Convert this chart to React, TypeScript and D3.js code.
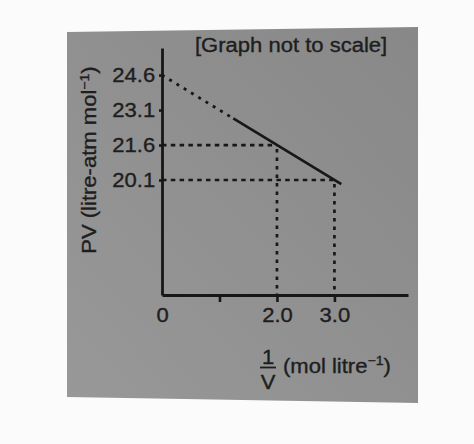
import { useEffect, useRef } from "react";
import * as d3 from "d3";

// Values. x = 1/V (mol litre^-1), y = PV (litre-atm mol^-1).
const X_TICKS = [0, 1, 2, 3];
const X_TICK_LABELS = ["0", "", "2.0", "3.0"];
const Y_TICKS = [24.6, 23.1, 21.6, 20.1];
const Y_TICK_LABELS = ["24.6", "23.1", "21.6", "20.1"];
// extrapolated part of the line (dotted) and the measured part (solid)
const DOTTED_X = [0, 1.24];
const DOTTED_Y = [24.6, 22.74];
const SOLID_X = [1.24, 3.12];
const SOLID_Y = [22.74, 19.92];
// guide lines dropped from the line to both axes
const GUIDE_X = [2.0, 3.0];
const GUIDE_Y = [21.6, 20.1];

const INK = "#171717";
const TEXT = "#1e1e1e";
const FONT = "'Liberation Sans', Arial, Helvetica, sans-serif";
const STRETCH = "scale(1.13,1)"; // the printed face is wider than Arial

export default function App() {
  const svgRef = useRef<SVGSVGElement | null>(null);

  useEffect(() => {
    const svg = d3.select(svgRef.current);
    svg.selectAll("*").remove();

    // paper + grey printed card
    svg.append("rect").attr("width", 474).attr("height", 444).attr("fill", "#fbfbfb");
    const grad = svg
      .append("defs")
      .append("linearGradient")
      .attr("id", "card")
      .attr("x1", "1")
      .attr("y1", "0")
      .attr("x2", "0")
      .attr("y2", "1");
    grad.append("stop").attr("offset", "0").attr("stop-color", "#888888");
    grad.append("stop").attr("offset", "1").attr("stop-color", "#989898");
    svg
      .append("polygon")
      .attr("points", "67,32 418,27 418,403 67,397")
      .attr("fill", "url(#card)");

    const x = d3.scaleLinear().domain([0, 4.28]).range([162, 408]);
    const y = d3.scaleLinear().domain([15.17, 25.76]).range([295, 48]);

    const pts = (xs: number[], ys: number[]) => xs.map((v, i) => [v, ys[i]] as [number, number]);
    const line = d3
      .line<[number, number]>()
      .x((d) => x(d[0]))
      .y((d) => y(d[1]));

    // dashed guides
    const guides = svg.append("g").attr("stroke", INK).attr("stroke-width", 2.7).attr("fill", "none");
    GUIDE_X.forEach((gx, i) => {
      guides
        .append("line")
        .attr("x1", x(0))
        .attr("x2", x(gx))
        .attr("y1", y(GUIDE_Y[i]))
        .attr("y2", y(GUIDE_Y[i]))
        .attr("stroke-dasharray", "4.5,4.3");
      guides
        .append("line")
        .attr("x1", x(gx))
        .attr("x2", x(gx))
        .attr("y1", y(GUIDE_Y[i]) + 4)
        .attr("y2", y.range()[0])
        .attr("stroke-dasharray", "3.5,5");
    });

    // the PV vs 1/V line
    svg
      .append("path")
      .datum(pts(DOTTED_X, DOTTED_Y))
      .attr("fill", "none")
      .attr("stroke", INK)
      .attr("stroke-width", 2.8)
      .attr("stroke-dasharray", "3,5.5")
      .attr("d", line);
    svg
      .append("path")
      .datum(pts(SOLID_X, SOLID_Y))
      .attr("fill", "none")
      .attr("stroke", INK)
      .attr("stroke-width", 2.6)
      .attr("d", line);

    // axes
    const xAxis = svg
      .append("g")
      .attr("transform", `translate(0,${y.range()[0]})`)
      .call(
        d3
          .axisBottom(x)
          .tickValues(X_TICKS)
          .tickSize(7)
          .tickSizeOuter(0)
          .tickPadding(6)
          .tickFormat((_, i) => X_TICK_LABELS[i]),
      );
    xAxis.selectAll(".tick").filter((d) => d === 0).select("line").remove();

    const yAxis = svg
      .append("g")
      .attr("transform", `translate(${x.range()[0]},0)`)
      .call(
        d3
          .axisLeft(y)
          .tickValues(Y_TICKS)
          .tickSize(3)
          .tickSizeOuter(0)
          .tickPadding(3)
          .tickFormat((_, i) => Y_TICK_LABELS[i]),
      );

    for (const ax of [xAxis, yAxis]) {
      ax.select(".domain").attr("stroke", INK).attr("stroke-width", 2.8);
      ax.selectAll(".tick line").attr("stroke", INK).attr("stroke-width", 2.6);
      ax.selectAll(".tick text")
        .attr("fill", TEXT)
        .attr("stroke", TEXT)
        .attr("stroke-width", 0.35)
        .attr("font-size", 19.5)
        .attr("font-family", FONT)
        .attr("transform", STRETCH);
    }

    const label = (tx: number, ty: number, extra = "") =>
      svg
        .append("g")
        .attr("transform", `translate(${tx},${ty}) ${extra} ${STRETCH}`)
        .append("text")
        .attr("fill", TEXT)
        .attr("stroke", TEXT)
        .attr("stroke-width", 0.35)
        .attr("font-size", 19.5)
        .attr("font-family", FONT);

    // title
    label(195, 52).text("[Graph not to scale]");

    // y axis title
    const yt = label(96, 160, "rotate(-90)").attr("text-anchor", "middle");
    yt.append("tspan").text("PV (litre-atm mol");
    yt.append("tspan").attr("font-size", 12.5).attr("dy", -7.5).text("\u22121");
    yt.append("tspan").attr("dy", 7.5).text(")");

    // x axis title: 1/V fraction then units
    label(268, 363.5).attr("text-anchor", "middle").text("1");
    svg
      .append("line")
      .attr("x1", 260)
      .attr("x2", 276)
      .attr("y1", 367.5)
      .attr("y2", 367.5)
      .attr("stroke", TEXT)
      .attr("stroke-width", 1.8);
    label(268, 388.5).attr("text-anchor", "middle").text("V");
    const xt = label(283, 372.5);
    xt.append("tspan").text("(mol litre");
    xt.append("tspan").attr("font-size", 12.5).attr("dy", -7.5).text("\u22121");
    xt.append("tspan").attr("dy", 7.5).text(")");
  }, []);

  return (
    <svg
      ref={svgRef}
      width={474}
      height={444}
      style={{ position: "absolute", left: 0, top: 0 }}
    />
  );
}
